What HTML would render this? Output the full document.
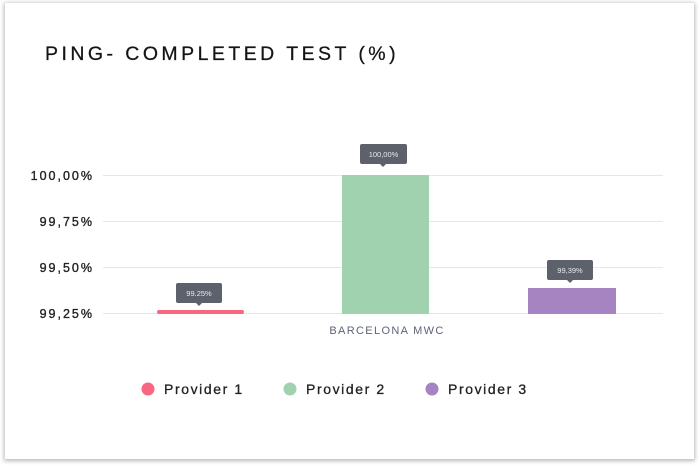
<!DOCTYPE html>
<html>
<head>
<meta charset="utf-8">
<style>
  html,body{margin:0;padding:0;background:#fff;}
  body{width:700px;height:466px;position:relative;overflow:hidden;font-family:"Liberation Sans",sans-serif;}
  .card{position:absolute;left:5px;top:3px;width:689px;height:456px;background:#fff;box-shadow:0 1px 4px 1px rgba(0,0,0,0.28);}
  svg{position:absolute;left:0;top:0;}
</style>
</head>
<body>
<div class="card"></div>
<svg width="700" height="466" viewBox="0 0 700 466" xmlns="http://www.w3.org/2000/svg">
  <text x="45" y="60" font-family="Liberation Sans, sans-serif" font-size="19.5" letter-spacing="3.45" fill="#151515" stroke="#151515" stroke-width="0.25">PING- COMPLETED TEST (%)</text>

  <!-- gridlines -->
  <g stroke="#e6e6e6" stroke-width="1">
    <line x1="103" y1="175.5" x2="663" y2="175.5"/>
    <line x1="103" y1="221.5" x2="663" y2="221.5"/>
    <line x1="103" y1="267.5" x2="663" y2="267.5"/>
    <line x1="103" y1="313.5" x2="663" y2="313.5"/>
  </g>

  <!-- y labels -->
  <g font-family="Liberation Sans, sans-serif" font-size="12.5" fill="#222" stroke="#222" stroke-width="0.35" text-anchor="end" letter-spacing="2">
    <text x="94" y="180">100,00%</text>
    <text x="94" y="226">99,75%</text>
    <text x="94" y="272">99,50%</text>
    <text x="94" y="318">99,25%</text>
  </g>

  <!-- bars -->
  <rect x="157" y="310" width="87" height="4" rx="2" fill="#f7677f"/>
  <rect x="342" y="175" width="87" height="139" fill="#a1d2b0"/>
  <rect x="528" y="288" width="88" height="26" fill="#a684c2"/>

  <!-- x label -->
  <text x="387" y="334" font-family="Liberation Sans, sans-serif" font-size="11" fill="#5d6478" text-anchor="middle" letter-spacing="1.35">BARCELONA MWC</text>

  <!-- tooltips -->
  <g fill="#5c616b">
    <rect x="176" y="283" width="46" height="20" rx="2"/>
    <polygon points="196,303 202,303 199,306"/>
    <rect x="360" y="144" width="47" height="20" rx="2"/>
    <polygon points="380,164 386,164 383,167"/>
    <rect x="547" y="260" width="46" height="20" rx="2"/>
    <polygon points="567,280 573,280 570,283"/>
  </g>
  <g font-family="Liberation Sans, sans-serif" font-size="7.5" fill="#e8e9ec" text-anchor="middle">
    <text x="199" y="296">99.25%</text>
    <text x="383.5" y="157">100,00%</text>
    <text x="570" y="273">99,39%</text>
  </g>

  <!-- legend -->
  <circle cx="148" cy="389" r="6.5" fill="#f7677f"/>
  <circle cx="290" cy="389" r="6.5" fill="#a1d2b0"/>
  <circle cx="432" cy="389" r="6.5" fill="#a684c2"/>
  <g font-family="Liberation Sans, sans-serif" font-size="14" fill="#222" stroke="#222" stroke-width="0.3" letter-spacing="1.6">
    <text x="164" y="394">Provider 1</text>
    <text x="306" y="394">Provider 2</text>
    <text x="448" y="394">Provider 3</text>
  </g>
</svg>
</body>
</html>
